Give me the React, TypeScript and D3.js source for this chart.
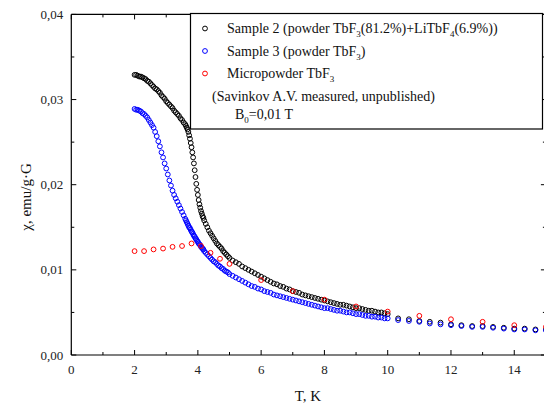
import React from "react";
import * as d3 from "d3";

// Shared temperature grid (K) for the densely measured part of samples 2 and 3
const T_DENSE = [
  2, 2.05, 2.1, 2.15, 2.2, 2.25, 2.3, 2.35, 2.4, 2.45, 2.5, 2.55, 2.6, 2.65, 2.7, 2.75, 2.8, 2.85, 2.9, 2.95,
  3, 3.05, 3.1, 3.15, 3.2, 3.25, 3.3, 3.35, 3.4, 3.45, 3.5, 3.55, 3.6,
  3.625, 3.65, 3.675, 3.7, 3.725, 3.75, 3.775, 3.8, 3.825, 3.85, 3.875, 3.9, 3.925, 3.95, 3.975,
  4, 4.025, 4.05, 4.075, 4.1, 4.125, 4.15, 4.175, 4.2,
  4.25, 4.3, 4.35, 4.4, 4.45, 4.5, 4.55, 4.6, 4.65, 4.7, 4.75, 4.8, 4.85, 4.9, 4.95, 5,
  5.1, 5.2, 5.3, 5.4, 5.5, 5.6, 5.7, 5.8, 5.9, 6,
  6.1, 6.2, 6.3, 6.4, 6.5, 6.6, 6.7, 6.8, 6.9, 7,
  7.1, 7.2, 7.3, 7.4, 7.5, 7.6, 7.7, 7.8, 7.9, 8,
  8.1, 8.2, 8.3, 8.4, 8.5, 8.6, 8.7, 8.8, 8.9, 9,
  9.1, 9.2, 9.3, 9.4, 9.5, 9.6, 9.7, 9.8, 9.9, 10,
];

// Sample 2 (powder TbF3(81.2%)+LiTbF4(6.9%)), emu/g·G
const CHI_SAMPLE2 = [
  0.0329, 0.0329, 0.0328, 0.0327, 0.0327, 0.0326, 0.0325, 0.0324, 0.0322, 0.0321, 0.0319, 0.0317, 0.0315, 0.0313, 0.0312, 0.031, 0.0308, 0.0305, 0.0303, 0.0301,
  0.0298, 0.0296, 0.0294, 0.0292, 0.029, 0.0287, 0.0285, 0.0283, 0.0281, 0.0278, 0.0276, 0.0273, 0.0271,
  0.0269, 0.0267, 0.0265, 0.0262, 0.0258, 0.0254, 0.0249, 0.0244, 0.0238, 0.0232, 0.0225, 0.0217, 0.0209, 0.0201, 0.0194,
  0.0188, 0.0182, 0.0177, 0.0173, 0.0169, 0.0166, 0.0163, 0.0161, 0.0158,
  0.0154, 0.015, 0.0146, 0.0143, 0.014, 0.0137, 0.0134, 0.0131, 0.0129, 0.0127, 0.0125, 0.0122, 0.012, 0.0118, 0.0116, 0.0114,
  0.0111, 0.0109, 0.0107, 0.0104, 0.0102, 0.01, 0.0098, 0.0096, 0.0094, 0.0092,
  0.009, 0.0088, 0.0086, 0.0084, 0.0083, 0.0081, 0.008, 0.0078, 0.0077, 0.0075,
  0.0074, 0.0073, 0.0071, 0.007, 0.0069, 0.0068, 0.0067, 0.0066, 0.0065, 0.0064,
  0.0063, 0.0062, 0.0061, 0.006, 0.0059, 0.0059, 0.0058, 0.0057, 0.0056, 0.0055,
  0.0055, 0.0054, 0.0053, 0.0052, 0.0052, 0.0051, 0.005, 0.005, 0.0049, 0.0048,
];

// Sample 3 (powder TbF3)
const CHI_SAMPLE3 = [
  0.0289, 0.0288, 0.0288, 0.0287, 0.0286, 0.0284, 0.0283, 0.0281, 0.0279, 0.0276, 0.0273, 0.027, 0.0267, 0.0262, 0.0257, 0.0251, 0.0245, 0.0238, 0.0232, 0.0225,
  0.0219, 0.0212, 0.0205, 0.0199, 0.0193, 0.0188, 0.0184, 0.018, 0.0176, 0.0172, 0.0168, 0.0164, 0.016,
  0.0158, 0.0156, 0.0154, 0.0152, 0.015, 0.0149, 0.0147, 0.0145, 0.0144, 0.0142, 0.014, 0.0139, 0.0137, 0.0136, 0.0134,
  0.0133, 0.0131, 0.013, 0.0129, 0.0127, 0.0126, 0.0125, 0.0124, 0.0122,
  0.012, 0.0118, 0.0116, 0.0114, 0.0112, 0.011, 0.0109, 0.0107, 0.0105, 0.0104, 0.0102, 0.0101, 0.0099, 0.0098, 0.0097, 0.0095,
  0.0093, 0.0091, 0.0089, 0.0087, 0.0085, 0.0083, 0.0081, 0.008, 0.0078, 0.0077,
  0.0075, 0.0074, 0.0073, 0.0071, 0.007, 0.0069, 0.0068, 0.0067, 0.0066, 0.0065,
  0.0064, 0.0063, 0.0062, 0.0061, 0.006, 0.0059, 0.0058, 0.0057, 0.0056, 0.0055,
  0.0055, 0.0054, 0.0053, 0.0052, 0.0052, 0.0051, 0.005, 0.005, 0.0049, 0.0048,
  0.0048, 0.0047, 0.0046, 0.0046, 0.0045, 0.0045, 0.0044, 0.0044, 0.0043, 0.0043,
];

// Sparser points above 10 K
const T_TAIL = [10.33, 10.67, 11, 11.33, 11.67, 12, 12.33, 12.67, 13, 13.33, 13.67, 14, 14.33, 14.67, 15];
const CHI_SAMPLE2_TAIL = [0.0043, 0.0042, 0.004, 0.0039, 0.0038, 0.0036, 0.0035, 0.0034, 0.0034, 0.0033, 0.0032, 0.0031, 0.0031, 0.003, 0.003];
const CHI_SAMPLE3_TAIL = [0.0041, 0.004, 0.0039, 0.0037, 0.0036, 0.0035, 0.0034, 0.0033, 0.0033, 0.0032, 0.0031, 0.003, 0.003, 0.0029, 0.0029];

// Micropowder TbF3
const T_MICRO = [2, 2.3, 2.6, 2.9, 3.2, 3.5, 3.8, 4.1, 4.4, 4.7, 5, 6, 7, 8, 9, 10, 11, 12, 13, 14, 15];
const CHI_MICRO = [0.0122, 0.0122, 0.0124, 0.0125, 0.0127, 0.0128, 0.0131, 0.0128, 0.012, 0.0113, 0.0107, 0.0088, 0.0075, 0.0065, 0.0057, 0.0051, 0.0046, 0.0042, 0.0039, 0.0035, 0.0033];

const X_DOMAIN = [0, 15];
const Y_DOMAIN = [0, 0.04];

const FONT = '"Liberation Serif", "Times New Roman", Times, serif';

export default function App() {
  const W = 544;
  const H = 407;
  const left = 71.3;
  const bottom = 355;
  const top = 14.4;
  const right = left + 15 * 31.64;

  const x = d3.scaleLinear().domain(X_DOMAIN).range([left, right]);
  const y = d3.scaleLinear().domain(Y_DOMAIN).range([bottom, top]);

  const xMajor = d3.range(0, 15, 2);
  const xMinor = d3.range(0, 16, 1).filter((v) => v % 2 !== 0);
  const yMajor = [0, 0.01, 0.02, 0.03, 0.04];
  const yMinor = [0.005, 0.015, 0.025, 0.035];
  const fmtY = (v: number) => d3.format(".2f")(v).replace(".", ",");

  const s2 = T_DENSE.map((t, i) => [t, CHI_SAMPLE2[i]]).concat(T_TAIL.map((t, i) => [t, CHI_SAMPLE2_TAIL[i]]));
  const s3 = T_DENSE.map((t, i) => [t, CHI_SAMPLE3[i]]).concat(T_TAIL.map((t, i) => [t, CHI_SAMPLE3_TAIL[i]]));
  const s4 = T_MICRO.map((t, i) => [t, CHI_MICRO[i]]);

  const r = 2.4;
  const MAJ = 5;
  const MIN = 3;
  const textStyle = { fontFamily: FONT };

  return (
    <svg width={W} height={H} style={{ position: "absolute", left: 0, top: 0, background: "#fff", fontFamily: FONT }}>
      <rect x={0} y={0} width={W} height={H} fill="#fff" />
      {/* data */}
      <g fill="none" strokeWidth={1}>
        {s2.map((d, i) => (
          <circle key={"b" + i} cx={x(d[0])} cy={y(d[1])} r={r} stroke="#000" />
        ))}
        {s3.map((d, i) => (
          <circle key={"u" + i} cx={x(d[0])} cy={y(d[1])} r={r} stroke="#0000ff" />
        ))}
        {s4.map((d, i) => (
          <circle key={"r" + i} cx={x(d[0])} cy={y(d[1])} r={r} stroke="#ff0000" />
        ))}
      </g>

      {/* frame */}
      <g stroke="#000" strokeWidth={1.2} fill="none">
        <line x1={left} x2={right} y1={bottom} y2={bottom} />
        <line x1={left} x2={right} y1={top} y2={top} />
        <line x1={left} x2={left} y1={top} y2={bottom} />
        <line x1={right} x2={right} y1={top} y2={bottom} />
      </g>
      <g stroke="#000" strokeWidth={1}>
        {xMajor.map((v) => (
          <g key={"xm" + v}>
            <line x1={x(v)} x2={x(v)} y1={bottom} y2={bottom - MAJ} />
            <line x1={x(v)} x2={x(v)} y1={top} y2={top + MAJ} />
          </g>
        ))}
        {xMinor.map((v) => (
          <g key={"xn" + v}>
            <line x1={x(v)} x2={x(v)} y1={bottom} y2={bottom - MIN} />
            <line x1={x(v)} x2={x(v)} y1={top} y2={top + MIN} />
          </g>
        ))}
        {yMajor.map((v) => (
          <g key={"ym" + v}>
            <line x1={left} x2={left + MAJ} y1={y(v)} y2={y(v)} />
            <line x1={right} x2={right - MAJ} y1={y(v)} y2={y(v)} />
          </g>
        ))}
        {yMinor.map((v) => (
          <g key={"yn" + v}>
            <line x1={left} x2={left + MIN} y1={y(v)} y2={y(v)} />
            <line x1={right} x2={right - MIN} y1={y(v)} y2={y(v)} />
          </g>
        ))}
      </g>

      {/* tick labels */}
      <g fontSize={13} fill="#222" style={textStyle}>
        {xMajor.map((v) => (
          <text key={"xl" + v} x={x(v)} y={bottom + 19} textAnchor="middle" style={textStyle}>
            {v}
          </text>
        ))}
        {yMajor.map((v) => (
          <text key={"yl" + v} x={left - 8} y={y(v) + 4.5} textAnchor="end" style={textStyle}>
            {fmtY(v)}
          </text>
        ))}
      </g>

      {/* axis titles */}
      <text x={308} y={401} fontSize={15} textAnchor="middle" fill="#111" style={textStyle}>
        T, K
      </text>
      <text transform="translate(31,197) rotate(-90)" fontSize={15} textAnchor="middle" fill="#111" style={textStyle}>
        χ, emu/g·G
      </text>

      {/* legend */}
      <rect x={190.5} y={13.5} width={352} height={115.5} fill="#fff" stroke="#000" strokeWidth={1.2} />
      <g fill="none" strokeWidth={1}>
        <circle cx={205} cy={28.5} r={r} stroke="#000" />
        <circle cx={205} cy={51} r={r} stroke="#0000ff" />
        <circle cx={205} cy={73.5} r={r} stroke="#ff0000" />
      </g>
      <g fontSize={14} fill="#111" style={textStyle}>
        <text x={227} y={33} style={textStyle}>
          Sample 2 (powder TbF
          <tspan dy={4} fontSize={9}>3</tspan>
          <tspan dy={-4}>(81.2%)+LiTbF</tspan>
          <tspan dy={4} fontSize={9}>4</tspan>
          <tspan dy={-4}>(6.9%))</tspan>
        </text>
        <text x={227} y={55.5} style={textStyle}>
          Sample 3 (powder TbF
          <tspan dy={4} fontSize={9}>3</tspan>
          <tspan dy={-4}>)</tspan>
        </text>
        <text x={227} y={78} style={textStyle}>
          Micropowder TbF
          <tspan dy={4} fontSize={9}>3</tspan>
        </text>
        <text x={212} y={101} style={textStyle}>
          (Savinkov A.V. measured, unpublished)
        </text>
        <text x={235} y={119} style={textStyle}>
          B
          <tspan dy={4} fontSize={9}>0</tspan>
          <tspan dy={-4}>=0,01 T</tspan>
        </text>
      </g>
    </svg>
  );
}
